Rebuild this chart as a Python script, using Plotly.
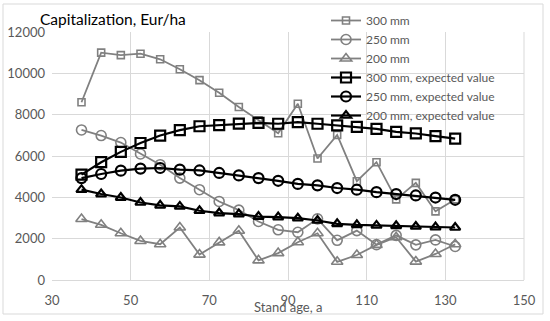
import plotly.graph_objects as go

stand_age = [37.5, 42.5, 47.5, 52.5, 57.5, 62.5, 67.5, 72.5, 77.5, 82.5,
             87.5, 92.5, 97.5, 102.5, 107.5, 112.5, 117.5, 122.5, 127.5, 132.5]

cap_300 = [8600, 11000, 10880, 10950, 10680, 10200, 9670, 9060, 8370, 7730,
           7100, 8530, 5880, 7020, 4780, 5700, 3900, 4700, 3320, 3900]
cap_250 = [7260, 6990, 6650, 6100, 5580, 4930, 4370, 3800, 3380, 2830,
           2430, 2310, 2960, 1920, 2390, 1710, 2160, 1700, 1940, 1620]
cap_200 = [2950, 2670, 2260, 1890, 1730, 2540, 1230, 1820, 2380, 950,
           1300, 1830, 2260, 880, 1210, 1700, 2070, 890, 1260, 1730]
exp_300 = [5100, 5700, 6200, 6630, 6990, 7250, 7440, 7490, 7570, 7600,
           7560, 7640, 7560, 7480, 7410, 7310, 7170, 7090, 6960, 6840]
exp_250 = [4930, 5130, 5290, 5390, 5420, 5340, 5300, 5180, 5060, 4930,
           4800, 4650, 4580, 4450, 4370, 4250, 4160, 4090, 3990, 3880]
exp_200 = [4370, 4160, 3990, 3750, 3610, 3560, 3350, 3240, 3190, 3070,
           3040, 2990, 2880, 2720, 2670, 2640, 2620, 2590, 2560, 2540]

names = ["300 mm", "250 mm", "200 mm",
         "300 mm, expected value", "250 mm, expected value", "200 mm, expected value"]
x_ticks = [30, 50, 70, 90, 110, 130, 150]
y_ticks = [0, 2000, 4000, 6000, 8000, 10000, 12000]
y_tick_text = ["0", "2000", "4000", "6000", "8000", "10000", "12000"]

GRAY = "#808080"
BLACK = "#000000"

# pixel layout helpers (paper area spans y pixels 3..280)
TOP_PX, BOT_PX, PLOT_TOP_PX = 3, 280, 32
PH = BOT_PX - TOP_PX
def py(px):
    return (BOT_PX - px) / PH
L_PX, R_PX = 52, 524
PW = R_PX - L_PX
def pxx(px):
    return (px - L_PX) / PW

fig = go.Figure()
series = [
    (cap_300, names[0], GRAY, "square-open", 7, 1.8),
    (cap_250, names[1], GRAY, "circle-open", 10, 1.8),
    (cap_200, names[2], GRAY, "triangle-up-open", 10, 1.8),
    (exp_300, names[3], BLACK, "square-open", 10, 2.2),
    (exp_250, names[4], BLACK, "circle-open", 10, 2.2),
    (exp_200, names[5], BLACK, "triangle-up-open", 9, 2.2),
]
for vals, nm, col, sym, sz, lw in series:
    fig.add_trace(go.Scatter(
        x=stand_age, y=vals, name=nm, mode="lines+markers",
        line=dict(color=col, width=lw),
        marker=dict(symbol=sym, size=sz, color=col,
                    line=dict(color=col, width=1.6 if col == GRAY else 2.2)),
    ))

fig.update_layout(
    width=550, height=321,
    margin=dict(l=L_PX, r=550 - R_PX, t=TOP_PX, b=321 - BOT_PX, autoexpand=False),
    paper_bgcolor="white", plot_bgcolor="white",
    font=dict(family="Lato, Noto Sans, sans-serif", size=13, color="#595959"),
    showlegend=True,
    legend=dict(x=pxx(326), y=py(6), xanchor="left", yanchor="top",
                bgcolor="rgba(0,0,0,0)", font=dict(size=12, color="#595959"),
                tracegroupgap=0, itemwidth=30),
    xaxis=dict(range=[30, 150], tickvals=x_ticks, showgrid=True,
               gridcolor="#d9d9d9", gridwidth=1, zeroline=False,
               showline=True, linecolor="#d9d9d9", ticks="",
               ticklabelstandoff=8, automargin=False,
               tickfont=dict(size=13, color="#595959")),
    yaxis=dict(range=[0, 12000], tickvals=y_ticks, ticktext=y_tick_text,
               domain=[0, py(PLOT_TOP_PX)],
               showgrid=True, gridcolor="#d9d9d9", gridwidth=1, zeroline=False,
               showline=False, ticks="", ticklabelstandoff=6, automargin=False,
               tickfont=dict(size=13, color="#595959")),
    annotations=[
        dict(text="Capitalization, Eur/ha", xref="paper", yref="paper",
             x=pxx(38), y=py(30), xanchor="left", yanchor="bottom", showarrow=False,
             font=dict(size=15.5, color="#000000")),
        dict(text="Stand age, a", xref="paper", yref="paper",
             x=0.50, y=py(297), xanchor="center", yanchor="top", showarrow=False,
             font=dict(size=13, color="#595959")),
    ],
    shapes=[
        dict(type="rect", xref="paper", yref="paper",
             x0=pxx(3), x1=pxx(543), y0=py(314), y1=py(4),
             line=dict(color="#d9d9d9", width=1), fillcolor="rgba(0,0,0,0)"),
        dict(type="line", xref="paper", yref="paper", x0=1, x1=1,
             y0=0, y1=py(PLOT_TOP_PX),
             line=dict(color="#d9d9d9", width=1)),
    ],
)

fig.write_html("out.html", config={"displayModeBar": False},
               post_script="document.body.style.margin='0';")
